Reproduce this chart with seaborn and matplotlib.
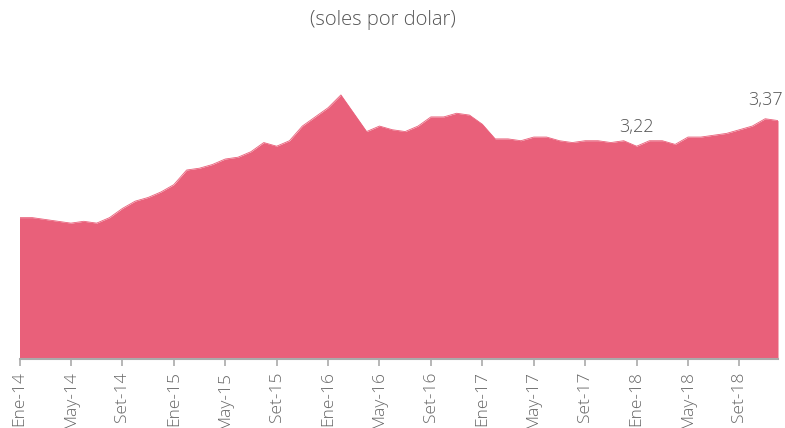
import matplotlib
matplotlib.use("Agg")
import matplotlib.pyplot as plt
import numpy as np
import pandas as pd
import seaborn as sns

# tipo de cambio mensual, ene-14 a dic-18
months = pd.date_range("2014-01-01", "2018-12-01", freq="MS")
rate = [
	2.83, 2.83, 2.82, 2.81, 2.80, 2.81, 2.80, 2.83, 2.88, 2.92, 2.94, 2.97,
	3.01, 3.09, 3.10, 3.12, 3.15, 3.16, 3.19, 3.24, 3.22, 3.25, 3.33, 3.38,
	3.43, 3.50, 3.40, 3.30, 3.33, 3.31, 3.30, 3.33, 3.38, 3.38, 3.40, 3.39,
	3.34, 3.26, 3.26, 3.25, 3.27, 3.27, 3.25, 3.24, 3.25, 3.25, 3.24, 3.25,
	3.22, 3.25, 3.25, 3.23, 3.27, 3.27, 3.28, 3.29, 3.31, 3.33, 3.37, 3.36,
]
month_abbr = ["Ene", "Feb", "Mar", "Abr", "May", "Jun",
	"Jul", "Ago", "Set", "Oct", "Nov", "Dic"]
labeled_points = {"3,22": 48, "3,37": 58}

df = pd.DataFrame({"idx": np.arange(len(rate)), "rate": rate})
df["label"] = [f"{month_abbr[d.month - 1]}-{d.strftime('%y')}" for d in months]

sns.set_theme(style="white")
plt.rcParams["font.family"] = ["Open Sans", "DejaVu Sans"]

fig = plt.figure(figsize=(7.85, 4.28), dpi=100)
ax = fig.add_axes([19.5 / 785, 1 - 359 / 428, (778 - 19.5) / 785, 319 / 428])

color = "#E9607A"
sns.lineplot(data=df, x="idx", y="rate", ax=ax, color=color, linewidth=0.6)
ax.fill_between(df["idx"], df["rate"], 2.058, color=color, linewidth=0)

ax.set_xlim(df["idx"].min(), df["idx"].max())
ax.set_ylim(2.058, 3.80)

tick_idx = df["idx"][::4]
ax.set_xticks(tick_idx)
ax.set_xticklabels(df["label"][::4], rotation=90, fontsize=12.5,
	color="#666666", fontweight="light")
ax.set_yticks([])
ax.set_xlabel("")
ax.set_ylabel("")

for side in ["top", "right", "left"]:
	ax.spines[side].set_visible(False)
ax.spines["bottom"].set_color("#aaaaaa")
ax.spines["bottom"].set_linewidth(1.5)
ax.tick_params(axis="x", bottom=True, length=5, width=1.2, color="#aaaaaa", pad=4)

for text, i in labeled_points.items():
	ax.annotate(text, (df["idx"][i], df["rate"][i]), xytext=(0, 7),
		textcoords="offset points", ha="center", va="bottom",
		fontsize=13, color="#555555", fontweight="light")

fig.text(383 / 785, 1 - 20 / 428, "(soles por dolar)", ha="center", va="center",
	fontsize=14.5, color="#555555", fontweight="light")

fig.savefig("out.png", dpi=100)
plt.close(fig)
